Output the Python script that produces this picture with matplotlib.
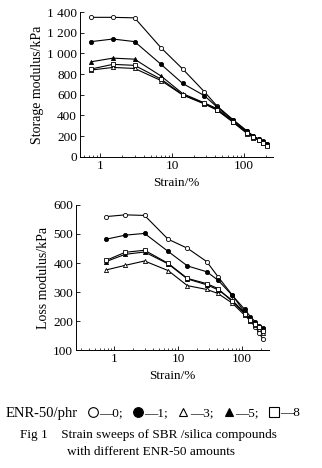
import matplotlib
matplotlib.use("Agg")
import matplotlib.pyplot as plt
import matplotlib.ticker as mticker
from matplotlib.lines import Line2D
import numpy as np

plt.rcParams['font.family'] = ['Liberation Serif', 'DejaVu Serif', 'DejaVu Sans']
plt.rcParams['font.size'] = 9

# strain, %
strain = [0.75, 1.5, 3, 7, 14, 28, 42, 70, 110, 135, 160, 185, 210]

# storage modulus, kPa
g1_0 = [1350, 1350, 1345, 1055, 850, 630, 492, 360, 250, 200, 170, 145, 120]
g1_1 = [1115, 1140, 1115, 895, 710, 592, 482, 355, 245, 200, 172, 148, 128]
g1_3 = [840, 865, 855, 738, 598, 512, 452, 335, 225, 185, 160, 135, 110]
g1_5 = [920, 955, 945, 782, 612, 522, 466, 345, 235, 195, 165, 140, 116]
g1_8 = [850, 895, 885, 752, 602, 516, 456, 340, 230, 190, 160, 135, 105]

# loss modulus, kPa
g2_0 = [560, 566, 564, 482, 451, 405, 353, 290, 230, 200, 180, 160, 138]
g2_1 = [482, 496, 502, 440, 390, 370, 341, 289, 240, 215, 198, 182, 175]
g2_3 = [376, 392, 407, 374, 322, 309, 295, 262, 220, 200, 185, 172, 160]
g2_5 = [405, 430, 438, 397, 345, 325, 308, 272, 228, 208, 192, 180, 172]
g2_8 = [409, 437, 444, 399, 347, 329, 312, 268, 225, 205, 190, 178, 165]

enr_labels = ["\u20140;", "\u20141;", "\u20143;", "\u20145;", "\u20148"]

# marker, facecolor for ENR-50 = 0, 1, 3, 5, 8 phr
styles = [("o", "white"), ("o", "black"), ("^", "white"), ("^", "black"), ("s", "white")]

fig = plt.figure(figsize=(3.22, 4.68), dpi=100)
ax1 = fig.add_axes([0.248, 0.665, 0.6, 0.309])
ax2 = fig.add_axes([0.236, 0.252, 0.599, 0.31])


def style_axis(ax):
    ax.set_xscale("log")
    ax.spines["top"].set_visible(False)
    ax.spines["right"].set_visible(False)
    for s in ("left", "bottom"):
        ax.spines[s].set_linewidth(0.7)
    ax.tick_params(direction="in", length=3, width=0.6, labelsize=9.5, pad=2)
    ax.tick_params(which="minor", direction="in", length=1.5, width=0.5)
    ax.xaxis.set_major_formatter(mticker.FuncFormatter(lambda v, p: "%g" % v))
    ax.xaxis.set_minor_formatter(mticker.NullFormatter())
    ax.set_xlabel("Strain/%", fontsize=9.5, labelpad=4)


for ys, (m, fc) in zip([g1_0, g1_1, g1_3, g1_5, g1_8], styles):
    ax1.plot(strain, ys, color="black", lw=0.8, marker=m, ms=3,
             mfc=fc, mec="black", mew=0.6)
style_axis(ax1)
ax1.set_xlim(0.52, 253)
ax1.set_ylim(0, 1400)
ax1.set_yticks(np.arange(0, 1401, 200))
ax1.yaxis.set_major_formatter(mticker.FuncFormatter(
    lambda v, p: ("%d %03d" % (v // 1000, v % 1000)) if v >= 1000 else "%d" % v))
ax1.set_ylabel("Storage modulus/kPa", fontsize=10, labelpad=2)

for ys, (m, fc) in zip([g2_0, g2_1, g2_3, g2_5, g2_8], styles):
    ax2.plot(strain, ys, color="black", lw=0.8, marker=m, ms=3,
             mfc=fc, mec="black", mew=0.6)
style_axis(ax2)
ax2.set_xlim(0.255, 262)
ax2.set_ylim(100, 600)
ax2.set_yticks(np.arange(100, 601, 100))
ax2.set_ylabel("Loss modulus/kPa", fontsize=10, labelpad=2)

# legend line below the plots
legend_sizes = [7, 7, 5.5, 5.5, 6.5]
handles = [Line2D([], [], ls="none", marker=m, ms=s, mfc=fc, mec="black", mew=0.8)
           for (m, fc), s in zip(styles, legend_sizes)]
fig.text(0.016, 1 - 413 / 468, "ENR-50/phr", ha="left", va="center", fontsize=10.5)
fig.legend(handles, enr_labels, ncol=5, loc="center left",
           bbox_to_anchor=(0.275, 1 - 413 / 468), frameon=False, fontsize=9.5,
           handlelength=0.6, handletextpad=0.2, columnspacing=0.85,
           borderpad=0, borderaxespad=0)

fig.text(0.46, 1 - 435 / 468, "Fig 1    Strain sweeps of SBR /silica compounds",
         ha="center", va="center", fontsize=9.5)
fig.text(0.47, 1 - 452 / 468, "with different ENR-50 amounts",
         ha="center", va="center", fontsize=9.5)

fig.savefig("out.png", dpi=100)
